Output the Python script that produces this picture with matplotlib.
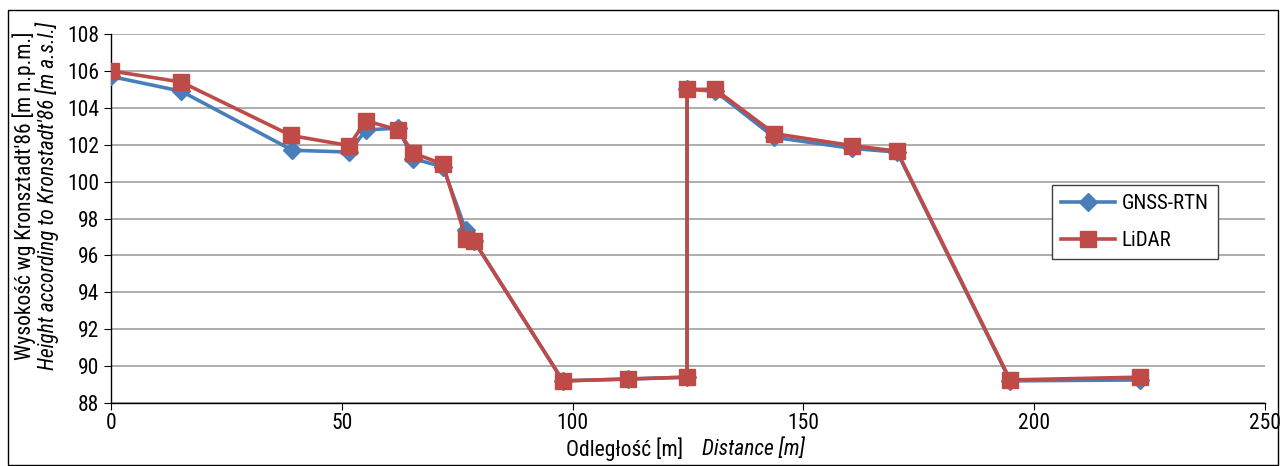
import matplotlib
matplotlib.use("Agg")
import matplotlib.pyplot as plt
from matplotlib import font_manager
from matplotlib.patches import Rectangle

names = {f.name for f in font_manager.fontManager.ttflist}
fam = 'DejaVu Sans'
for cand in ['Roboto Condensed', 'Archivo Narrow', 'Liberation Sans Narrow', 'Arial Narrow', 'Barlow Semi Condensed', 'Liberation Sans']:
    if cand in names:
        fam = cand
        break
plt.rcParams['font.family'] = [fam, 'DejaVu Sans']

dist_gnss = [0, 15.2, 39.3, 51.6, 55.2, 62.2, 65.4, 71.9, 76.9, 78.6, 97.9, 112.0, 124.8, 124.8, 130.9, 143.7, 160.6, 170.3, 194.8, 222.9]
h_gnss = [105.7, 104.9, 101.7, 101.6, 102.8, 102.9, 101.25, 100.8, 97.35, 96.8, 89.2, 89.3, 89.4, 105.0, 104.9, 102.4, 101.8, 101.6, 89.2, 89.25]
dist_lidar = [0, 15.2, 39.0, 51.6, 55.2, 62.2, 65.4, 71.9, 76.9, 78.6, 97.9, 112.0, 124.8, 124.8, 130.9, 143.7, 160.6, 170.3, 194.8, 222.9]
h_lidar = [106.0, 105.4, 102.5, 101.95, 103.3, 102.8, 101.55, 100.95, 96.9, 96.8, 89.2, 89.3, 89.4, 105.0, 105.0, 102.6, 101.95, 101.65, 89.25, 89.4]

xticks = [0, 50, 100, 150, 200, 250]
yticks = list(range(88, 109, 2))

fig = plt.figure(figsize=(12.82, 4.66), dpi=100)
ax = fig.add_axes([0.0866, 0.1352, 0.9001, 0.7918])

blue = '#4A7EBB'
red = '#BE4B48'
ax.plot(dist_gnss, h_gnss, color=blue, lw=2.6, marker='D', ms=9, mfc=blue, mec=blue, label='GNSS-RTN', zorder=3)
ax.plot(dist_lidar, h_lidar, color=red, lw=2.6, marker='s', ms=11, mfc=red, mec=red, label='LiDAR', zorder=4)

ax.set_xlim(0, 250)
ax.set_ylim(88, 108)
ax.set_xticks(xticks)
ax.set_yticks(yticks)
ax.grid(axis='y', color='#a0a0a0', lw=1.2)
ax.set_axisbelow(True)
for s in ['top', 'right']:
    ax.spines[s].set_visible(False)
for s in ['left', 'bottom']:
    ax.spines[s].set_color('black')
    ax.spines[s].set_linewidth(1.0)
ax.tick_params(axis='both', labelsize=15.5, length=5, color='black', direction='out')
ax.tick_params(axis='x', pad=2)

leg = ax.legend(loc='upper left', bbox_to_anchor=(0.8154, 0.5908), borderaxespad=0, fontsize=15,
                frameon=True, fancybox=False, edgecolor='#404040', framealpha=1, handlelength=2.6,
                borderpad=0.45, labelspacing=0.85, handletextpad=0.3)
leg.get_frame().set_linewidth(1.0)

# y-axis labels (two lines)
fig.text(0.019, 0.58, "Wysokość wg Kronsztadt'86 [m n.p.m.]", rotation=90, ha='center', va='center', fontsize=15.5)
fig.text(0.037, 0.58, "Height according to Kronstadt'86 [m a.s.l.]", rotation=90, ha='center', va='center', fontsize=15.5, style='italic')
# x-axis labels
fig.text(0.533, 0.036, "Odległość [m]", ha='right', va='center', fontsize=15.5)
fig.text(0.5476, 0.036, "Distance [m]", ha='left', va='center', fontsize=15.5, style='italic')

fig.patches.append(Rectangle((0.006, 0.002), 0.991, 0.976, transform=fig.transFigure,
                             fill=False, edgecolor='black', lw=1.0))

fig.savefig('out.png', dpi=100)
